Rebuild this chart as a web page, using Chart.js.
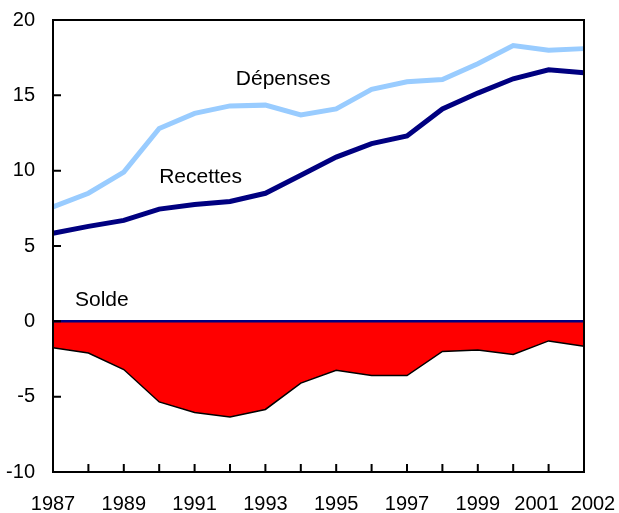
<!DOCTYPE html>
<html>
<head>
<meta charset="utf-8">
<script src="https://cdn.jsdelivr.net/npm/chart.js@4"></script>
<style>
  html, body { margin: 0; padding: 0; background: #fff; }
  #wrap { width: 619px; height: 513px; }
</style>
</head>
<body>
<div id="wrap"><canvas id="chart"></canvas></div>
<script>
const years = ['1987','1988','1989','1990','1991','1992','1993','1994','1995','1996','1997','1998','1999','2000','2001','2002'];
const depenses = [7.6, 8.5, 9.9, 12.8, 13.8, 14.3, 14.35, 13.7, 14.1, 15.4, 15.9, 16.05, 17.1, 18.3, 18.0, 18.1];
const recettes = [5.85, 6.3, 6.7, 7.45, 7.75, 7.95, 8.5, 9.7, 10.9, 11.8, 12.3, 14.1, 15.15, 16.1, 16.7, 16.5];
const solde = [-1.75, -2.1, -3.2, -5.35, -6.05, -6.35, -5.85, -4.1, -3.25, -3.6, -3.6, -2.0, -1.9, -2.2, -1.3, -1.65];
const yTicks = [-10, -5, 0, 5, 10, 15, 20];
// labels shown on the x axis, with a small shift for the crowded pair at the end
const xLabels = { '1987': 0, '1989': 0, '1991': 0, '1993': 0, '1995': 0, '1997': 0, '1999': 0, '2001': -12, '2002': 9 };

const FONT = '"Liberation Sans", Arial, sans-serif';
Chart.defaults.font.family = FONT;

// boite, graduations internes, ligne du zero, libelles
const decor = {
  id: 'decor',
  afterDatasetsDraw(chart) {
    const { ctx, chartArea: a, scales: { x, y } } = chart;
    ctx.save();
    // ligne du zero
    ctx.strokeStyle = '#000080';
    ctx.lineWidth = 2.5;
    const y0 = y.getPixelForValue(0);
    ctx.beginPath(); ctx.moveTo(a.left, y0); ctx.lineTo(a.right, y0); ctx.stroke();
    // cadre
    ctx.strokeStyle = '#000';
    ctx.lineWidth = 2;
    ctx.strokeRect(a.left, a.top, a.right - a.left, a.bottom - a.top);
    // graduations
    ctx.beginPath();
    yTicks.forEach(v => {
      const py = y.getPixelForValue(v);
      ctx.moveTo(a.left, py); ctx.lineTo(a.left + 8, py);
    });
    years.forEach((yr, i) => {
      const px = x.getPixelForValue(i);
      ctx.moveTo(px, a.bottom); ctx.lineTo(px, a.bottom - 8);
    });
    ctx.stroke();
    // annees
    ctx.fillStyle = '#000';
    ctx.font = '20px ' + FONT;
    ctx.textAlign = 'center';
    ctx.textBaseline = 'middle';
    years.forEach((yr, i) => {
      if (yr in xLabels) ctx.fillText(yr, x.getPixelForValue(i) + xLabels[yr], a.bottom + 32);
    });
    // noms des series
    ctx.font = '21px ' + FONT;
    ctx.fillText('Dépenses', x.getPixelForValue(6.5), y.getPixelForValue(16.05));
    ctx.fillText('Recettes', x.getPixelForValue(4.17), y.getPixelForValue(9.55));
    ctx.fillText('Solde', x.getPixelForValue(1.38), y.getPixelForValue(1.4));
    ctx.restore();
  }
};

new Chart(document.getElementById('chart').getContext('2d'), {
  type: 'line',
  data: {
    labels: years,
    datasets: [
      { label: 'Dépenses', data: depenses, borderColor: '#99CCFF', borderWidth: 5, pointRadius: 0, tension: 0, fill: false },
      { label: 'Recettes', data: recettes, borderColor: '#000080', borderWidth: 5, pointRadius: 0, tension: 0, fill: false },
      { label: 'Solde', data: solde, borderColor: '#000', borderWidth: 1.5, pointRadius: 0, tension: 0, fill: 'origin', backgroundColor: '#FF0000' }
    ]
  },
  options: {
    responsive: true,
    maintainAspectRatio: false,
    animation: false,
    layout: { padding: { top: 20, right: 35, left: 0, bottom: 0 } },
    plugins: { legend: { display: false }, tooltip: { enabled: false } },
    scales: {
      x: {
        type: 'category',
        offset: false,
        grid: { display: false },
        border: { display: false },
        ticks: { display: false },
        afterFit: s => { s.height = 41; }
      },
      y: {
        min: -10, max: 20,
        afterBuildTicks: s => { s.ticks = yTicks.map(v => ({ value: v })); },
        grid: { display: false },
        border: { display: false },
        ticks: { color: '#000', font: { size: 20 }, padding: 10 },
        afterFit: s => { s.width = 53; s.paddingTop = 0; s.paddingBottom = 0; }
      }
    }
  },
  plugins: [decor]
});
</script>
</body>
</html>
